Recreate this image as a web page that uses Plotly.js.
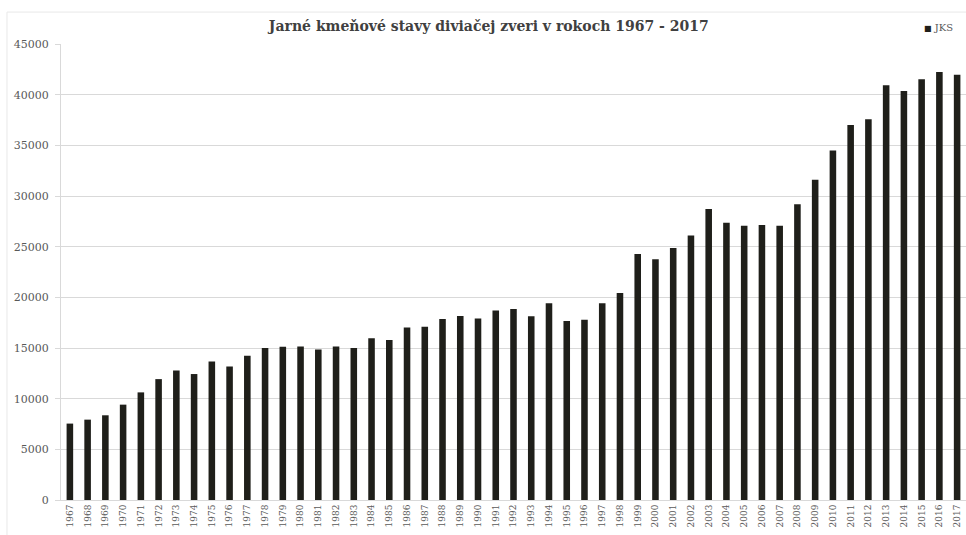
<!DOCTYPE html>
<html>
<head>
<meta charset="utf-8">
<script src="https://cdn.plot.ly/plotly-3.0.1.min.js"></script>
<style>html,body{margin:0;padding:0;background:#fff;}#chart{width:966px;height:535px;}</style>
</head>
<body>
<div id="chart"></div>
<script>
const years = ["1967","1968","1969","1970","1971","1972","1973","1974","1975","1976","1977","1978","1979","1980","1981","1982","1983","1984","1985","1986","1987","1988","1989","1990","1991","1992","1993","1994","1995","1996","1997","1998","1999","2000","2001","2002","2003","2004","2005","2006","2007","2008","2009","2010","2011","2012","2013","2014","2015","2016","2017"];
const jks = [7540,7930,8360,9410,10620,11930,12790,12430,13670,13180,14230,15000,15130,15160,14840,15160,15000,15950,15790,17030,17100,17850,18150,17920,18700,18850,18130,19410,17670,17800,19410,20430,24280,23750,24870,26100,28720,27370,27070,27140,27070,29180,31610,34500,37000,37570,40920,40360,41510,42240,41970];
const seriesName = "JKS";
const chartTitle = "Jarné kmeňové stavy diviačej zveri v rokoch 1967 - 2017";
const yTicks = [0,5000,10000,15000,20000,25000,30000,35000,40000,45000];
const barColor = "#1f1f1a";

const trace = {
  type: "bar",
  x: years,
  y: jks,
  name: seriesName,
  marker: {color: barColor},
  showlegend: false
};

const layout = {
  width: 966, height: 535,
  paper_bgcolor: "#fff", plot_bgcolor: "#fff",
  margin: {l: 61, r: 0, t: 44, b: 35},
  bargap: 0.63,
  title: {text: chartTitle, x: 0.506, xanchor: "center", y: 0.952, yanchor: "middle",
          font: {family: "DejaVu Serif", size: 14, color: "#404040", weight: "bold"}},
  showlegend: false,
  annotations: [{xref: "paper", yref: "paper", x: 0.988, xanchor: "right", y: 1.037, yanchor: "middle",
                 showarrow: false,
                 text: '<span style="color:' + barColor + ';font-size:8px">■</span> ' + seriesName,
                 font: {family: "DejaVu Serif", size: 10, color: "#595959"}}],
  shapes: [{type: "rect", xref: "paper", yref: "paper", x0: -0.0597, x1: 1.02, y0: -0.08, y1: 1.070,
            line: {color: "#e8e8e8", width: 1}, fillcolor: "rgba(0,0,0,0)", layer: "below"}],
  xaxis: {type: "category", tickangle: -90, tickfont: {family: "DejaVu Serif", size: 9, color: "#595959"},
          showgrid: false, showline: true, linecolor: "#d9d9d9", ticks: "", automargin: false},
  yaxis: {range: [0, 45000], tickvals: yTicks, ticktext: yTicks.map(String),
          tickfont: {family: "DejaVu Serif", size: 11, color: "#595959"},
          gridcolor: "#d9d9d9", gridwidth: 1, showline: true, linecolor: "#d9d9d9",
          ticks: "outside", ticklen: 5, tickcolor: "#d9d9d9", ticklabelstandoff: 4, zeroline: false, automargin: false}
};

Plotly.newPlot("chart", [trace], layout, {displayModeBar: false, staticPlot: true});
</script>
</body>
</html>
